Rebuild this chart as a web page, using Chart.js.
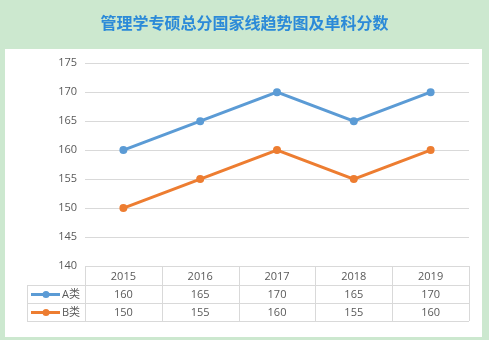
<!DOCTYPE html>
<html>
<head>
<meta charset="utf-8">
<script src="https://cdn.jsdelivr.net/npm/chart.js@4/dist/chart.umd.min.js"></script>
<style>
  html, body { margin: 0; padding: 0; background: #cce8cf; }
  #wrap { width: 489px; height: 340px; }
</style>
</head>
<body>
<div id="wrap"><canvas id="c" width="489" height="340"></canvas></div>
<script>
// Years shown along the bottom and in the data table header
const years = ['2015', '2016', '2017', '2018', '2019'];
// National line scores per category
const seriesA = [160, 165, 170, 165, 170];
const seriesB = [150, 155, 160, 155, 160];
const seriesNames = ['A类', 'B类'];
const chartTitle = '管理学专硕总分国家线趋势图及单科分数';

const BLUE = '#5b9bd5';
const ORANGE = '#ed7d31';
const TEXT = '#595959';
const GRID = '#d9d9d9';

// Green page background with a white panel behind the plot
const panelPlugin = {
  id: 'panel',
  beforeDraw(chart) {
    const ctx = chart.ctx;
    ctx.save();
    ctx.fillStyle = '#cce8cf';
    ctx.fillRect(0, 0, chart.width, chart.height);
    ctx.fillStyle = '#ffffff';
    ctx.fillRect(5, 49, 477, 288);
    ctx.restore();
  }
};

// Data table under the plot: year header, then one row per series with a legend key
const tablePlugin = {
  id: 'dataTable',
  afterDraw(chart) {
    const ctx = chart.ctx;
    const x = chart.scales.x;
    const area = chart.chartArea;
    const n = years.length;
    const colW = (area.right - area.left) / n;
    const top = area.bottom;
    const headH = 19, rowH = 18;
    const keyLeft = 27;
    const bottom = top + headH + rowH * 2;

    ctx.save();
    ctx.strokeStyle = GRID;
    ctx.lineWidth = 1;
    ctx.beginPath();
    // horizontal rules
    ctx.moveTo(area.left, top + 0.5); ctx.lineTo(area.right, top + 0.5);
    ctx.moveTo(keyLeft, top + headH + 0.5); ctx.lineTo(area.right, top + headH + 0.5);
    ctx.moveTo(keyLeft, top + headH + rowH + 0.5); ctx.lineTo(area.right, top + headH + rowH + 0.5);
    ctx.moveTo(keyLeft, bottom + 0.5); ctx.lineTo(area.right, bottom + 0.5);
    // vertical rules
    for (let i = 0; i <= n; i++) {
      const px = Math.round(area.left + colW * i) + 0.5;
      ctx.moveTo(px, top); ctx.lineTo(px, bottom);
    }
    ctx.moveTo(keyLeft + 0.5, top + headH); ctx.lineTo(keyLeft + 0.5, bottom);
    ctx.stroke();

    ctx.fillStyle = TEXT;
    ctx.font = '11px "Open Sans", "Noto Sans", sans-serif';
    ctx.textAlign = 'center';
    ctx.textBaseline = 'middle';
    years.forEach((y, i) => {
      const cx = x.getPixelForValue(i);
      ctx.fillText(y, cx, top + headH / 2 + 1);
    });

    const rows = [seriesA, seriesB];
    const colors = [BLUE, ORANGE];
    rows.forEach((vals, r) => {
      const cy = top + headH + rowH * r + rowH / 2 + 0.5;
      vals.forEach((v, i) => {
        ctx.fillStyle = TEXT;
        ctx.fillText(String(v), x.getPixelForValue(i), cy + 0.5);
      });
      // legend key: short line with a dot
      ctx.strokeStyle = colors[r];
      ctx.lineWidth = 3;
      ctx.beginPath();
      ctx.moveTo(31, cy); ctx.lineTo(60, cy);
      ctx.stroke();
      ctx.fillStyle = colors[r];
      ctx.beginPath();
      ctx.arc(46, cy, 3.5, 0, Math.PI * 2);
      ctx.fill();
      ctx.fillStyle = TEXT;
      ctx.textAlign = 'left';
      ctx.font = '11px "Open Sans", "Noto Sans CJK SC", sans-serif';
      ctx.fillText(seriesNames[r], 62, cy + 0.5);
      ctx.textAlign = 'center';
      ctx.font = '11px "Open Sans", "Noto Sans", sans-serif';
    });
    ctx.restore();
  }
};

new Chart(document.getElementById('c'), {
  type: 'line',
  data: {
    labels: years,
    datasets: [
      {
        label: seriesNames[0],
        data: seriesA,
        borderColor: BLUE,
        backgroundColor: BLUE,
        borderWidth: 3,
        pointRadius: 4,
        pointBorderWidth: 0,
        tension: 0
      },
      {
        label: seriesNames[1],
        data: seriesB,
        borderColor: ORANGE,
        backgroundColor: ORANGE,
        borderWidth: 3,
        pointRadius: 4,
        pointBorderWidth: 0,
        tension: 0
      }
    ]
  },
  options: {
    responsive: false,
    animation: false,
    events: [],
    layout: { padding: { left: 20, right: 20, top: 0, bottom: 74 } },
    plugins: {
      legend: { display: false },
      tooltip: { enabled: false },
      title: {
        display: true,
        text: chartTitle,
        color: '#2b8ad8',
        font: { family: '"Noto Sans CJK SC", sans-serif', size: 16, weight: 'bold', lineHeight: 1.2 },
        padding: { top: 13, bottom: 31 }
      }
    },
    scales: {
      x: {
        display: false,
        offset: true
      },
      y: {
        min: 140,
        max: 175,
        ticks: {
          stepSize: 5,
          color: TEXT,
          padding: 8,
          font: { family: '"Open Sans", "Noto Sans", sans-serif', size: 11 }
        },
        grid: { color: GRID, drawTicks: false },
        border: { display: false },
        afterFit(scale) { scale.width = 65; }
      }
    }
  },
  plugins: [panelPlugin, tablePlugin]
});
</script>
</body>
</html>
